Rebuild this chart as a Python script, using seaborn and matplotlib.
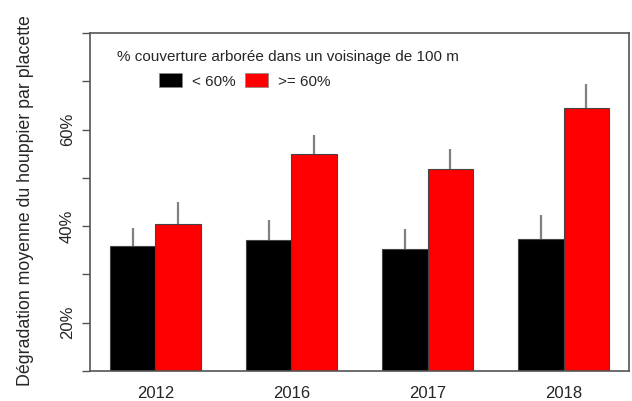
import numpy as np
import pandas as pd
import matplotlib
matplotlib.use("Agg")
import matplotlib.pyplot as plt
import matplotlib.patches as mpatches
import seaborn as sns

# values (fractions)
years = ["2012", "2016", "2017", "2018"]
groups = ["< 60%", ">= 60%"]
low_mean = [0.359, 0.372, 0.353, 0.373]
low_err = [0.038, 0.040, 0.042, 0.050]
high_mean = [0.405, 0.550, 0.518, 0.645]
high_err = [0.044, 0.038, 0.041, 0.050]
colors = ["#000000", "#ff0000"]
legend_title = "% couverture arborée dans un voisinage de 100 m"
ylabel = "Dégradation moyenne du houppier par placette"

sns.set_style("ticks")
plt.rcParams["font.family"] = ["Liberation Sans", "DejaVu Sans"]

df = pd.DataFrame({
    "year": years * 2,
    "group": [groups[0]] * 4 + [groups[1]] * 4,
    "value": low_mean + high_mean,
    "err": low_err + high_err,
})

fig = plt.figure(figsize=(6.32, 4.01), dpi=100)
ax = fig.add_axes([90 / 632, 30 / 401, 539 / 632, 338 / 401])

sns.barplot(data=df, x="year", y="value", hue="group", order=years,
            hue_order=groups, palette=colors, saturation=1, width=2 / 3,
            errorbar=None, edgecolor="#444444", linewidth=0.8, ax=ax,
            legend=False)

# upper error bars only
for cont, errs in zip(ax.containers, [low_err, high_err]):
    for bar, e in zip(cont, errs):
        xc = bar.get_x() + bar.get_width() / 2
        top = bar.get_height()
        ax.vlines(xc, top, top + e, color="#808080", lw=1.6, zorder=3)

ax.set_xlim(-1 / 3 - 0.147, 3 + 1 / 3 + 0.147)
ax.set_ylim(0.10, 0.80)
ticks = np.round(np.arange(0.1, 0.81, 0.1), 2)
ax.set_yticks(ticks)
ax.set_yticklabels(["", "20%", "", "40%", "", "60%", "", ""],
                   rotation=90, va="center", fontsize=12)
ax.tick_params(axis="y", length=6, width=1, color="#555555", pad=5)
ax.tick_params(axis="x", length=0, pad=11, labelsize=12)
ax.set_xlabel("")
ax.set_ylabel("")
for s in ax.spines.values():
    s.set_visible(True)
    s.set_color("#555555")
    s.set_linewidth(1.2)

fig.text(26 / 632, 1 - 201 / 401, ylabel, rotation=90, ha="center",
         va="center", fontsize=12.8)

fig.text(117 / 632, 1 - 57 / 401, legend_title, ha="left", va="center",
         fontsize=11)
handles = [mpatches.Patch(facecolor=c, edgecolor="#888888", lw=0.5) for c in colors]
ax.legend(handles, groups, loc="center left", ncol=2, frameon=False,
          fontsize=11, handlelength=1.5, handleheight=1.0,
          handletextpad=0.65, columnspacing=0.65, borderpad=0, borderaxespad=0,
          bbox_to_anchor=(159 / 632, 1 - 81 / 401),
          bbox_transform=fig.transFigure)

fig.savefig("out.png", dpi=100)
